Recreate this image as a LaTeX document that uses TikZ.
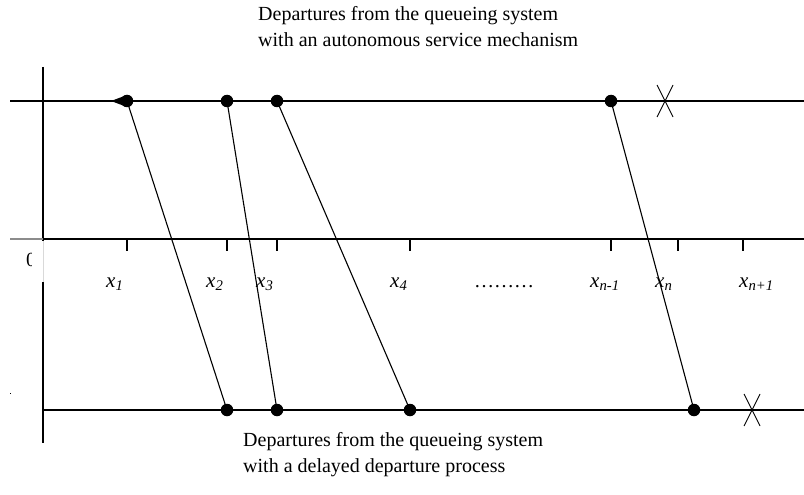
\documentclass[tikz,border=0pt]{standalone}
\usepackage{fontspec}
\setmainfont{Liberation Serif}
\begin{document}
\begin{tikzpicture}[x=1pt,y=-1pt,
  axis/.style={line width=1.3pt},
  link/.style={line width=1.1pt},
  dotmark/.style={circle,fill=black,inner sep=0pt,minimum size=12.5pt},
  tickmark/.style={line width=1.3pt},
  lab/.style={font=\fontsize{21}{24}\selectfont\itshape,anchor=base west,inner sep=0pt},
  title/.style={font=\fontsize{20}{26.5}\selectfont,anchor=north west,align=left,inner sep=0pt},
  xmark/.style={line width=0.9pt}]
\useasboundingbox (0,0) rectangle (804,495);
% axes
\coordinate (vtop) at (43,67);
\coordinate (vbot) at (43,443);
\draw[axis] (vtop) -- (vbot);
\coordinate (tl) at (10,101); \coordinate (tr) at (804,101);
\draw[axis] (tl) -- (tr);
\coordinate (ml) at (10,239); \coordinate (m0) at (43,239); \coordinate (mr) at (804,239);
\draw[axis,black!45] (ml) -- (m0);
\draw[axis] (m0) -- (mr);
\coordinate (bl) at (43,410); \coordinate (br) at (804,410);
\draw[axis] (bl) -- (br);
% zero label, partly hidden
\node[font=\fontsize{20}{22}\selectfont,inner sep=0pt] (zero) at (31,260) {0};
\fill[white] (32,241) rectangle (44,282);
\coordinate (ga) at (43,241); \coordinate (gb) at (43,282);
\draw[black!15,line width=0.8pt] (ga) -- (gb);
\fill[black] (9.5,392.5) rectangle (11,394);
% ticks
\foreach \n/\x in {1/127,2/227,3/277,4/410,5/611,6/678,7/743}{
  \coordinate (t\n) at (\x,239);
  \coordinate (u\n) at (\x,251);
  \draw[tickmark] (t\n) -- (u\n);
}
% tick labels
\node[lab] (l1) at (106,287) {x\textsubscript{1}};
\node[lab] (l2) at (206,287) {x\textsubscript{2}};
\node[lab] (l3) at (256,287) {x\textsubscript{3}};
\node[lab] (l4) at (390,287) {x\textsubscript{4}};
\node[lab,font=\fontsize{20}{22}\selectfont] (ldots) at (474,287) {………};
\node[lab] (l5) at (590,287) {x\textsubscript{n-1}};
\node[lab] (l6) at (655,287) {x\textsubscript{n}};
\node[lab] (l7) at (739,287) {x\textsubscript{n+1}};
% top departures
\node[dotmark] (a1) at (127,101) {};
\node[dotmark] (a2) at (227,101) {};
\node[dotmark] (a3) at (277,101) {};
\node[dotmark] (a4) at (611,101) {};
\fill[black] (111,101) -- (127,95) -- (127,107) -- cycle;
% bottom departures
\node[dotmark] (b1) at (227,410) {};
\node[dotmark] (b2) at (277,410) {};
\node[dotmark] (b3) at (410,410) {};
\node[dotmark] (b4) at (694,410) {};
% links
\draw[link] (a1.center) -- (b1.center);
\draw[link] (a2.center) -- (b2.center);
\draw[link] (a3.center) -- (b3.center);
\draw[link] (a4.center) -- (b4.center);
% crosses
\coordinate (xa1) at (657,85); \coordinate (xa2) at (673,117);
\coordinate (xa3) at (673,85); \coordinate (xa4) at (657,117);
\draw[xmark] (xa1) -- (xa2); \draw[xmark] (xa3) -- (xa4);
\coordinate (xb1) at (744,394); \coordinate (xb2) at (760,426);
\coordinate (xb3) at (760,394); \coordinate (xb4) at (744,426);
\draw[xmark] (xb1) -- (xb2); \draw[xmark] (xb3) -- (xb4);
% titles
\node[title] (toptitle) at (258,6) {Departures from the queueing system\\with an autonomous service mechanism};
\node[title] (bottitle) at (243,432) {Departures from the queueing system\\with a delayed departure process};
\end{tikzpicture}
\end{document}
